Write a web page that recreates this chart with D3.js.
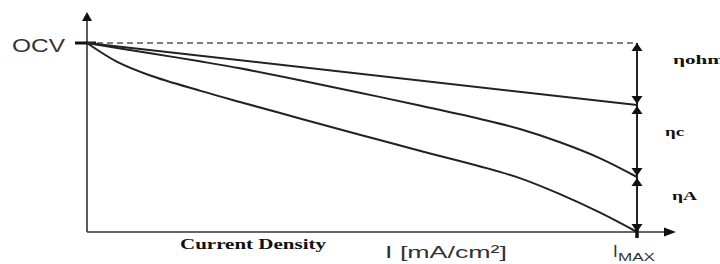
<!DOCTYPE html>
<html>
<head>
<meta charset="utf-8">
<script src="https://cdn.jsdelivr.net/npm/d3@7"></script>
<style>
body{margin:0;background:#fff;}
svg{display:block;}
</style>
</head>
<body>
<svg id="canvas" width="720" height="264"></svg>
<script>
// current density as fraction of I_MAX, cell voltage as fraction of OCV
let current=[0,0.055,0.115,0.205,0.278,0.387,0.496,0.605,0.715,0.787,0.86,0.933,1];
let ohmicLine=[1,0.672];
let ohmicCurrent=[0,1];
let cathodeCurve=[1,0.974,0.946,0.903,0.866,0.803,0.737,0.669,0.598,0.545,0.475,0.39,0.291];
let anodeCurve=[1,0.9,0.828,0.748,0.688,0.601,0.515,0.43,0.347,0.285,0.2,0.102,0];
let lossLevels=[1,0.672,0.291,0];
let lossLabels=["\u03b7ohm","\u03b7c","\u03b7A"];

let w=720,h=264;
let canvas=d3.select("#canvas");

let xScale=d3.scaleLinear().domain([0,1]).range([87,637]);
let yScale=d3.scaleLinear().domain([0,1]).range([232,43]);

let axisColor="#333";

// axes
canvas.append("line").attr("x1",xScale(0)).attr("x2",xScale(0)).attr("y1",yScale(0)).attr("y2",19)
  .attr("stroke",axisColor).attr("stroke-width",1.6);
canvas.append("path").attr("d","M"+(xScale(0)-5)+",21 L"+xScale(0)+",12 L"+(xScale(0)+5)+",21 Z").attr("fill","#111");
canvas.append("line").attr("x1",xScale(0)).attr("x2",666).attr("y1",yScale(0)).attr("y2",yScale(0))
  .attr("stroke",axisColor).attr("stroke-width",1.6);
canvas.append("path").attr("d","M664,"+(yScale(0)-4.5)+" L676,"+yScale(0)+" L664,"+(yScale(0)+4.5)+" Z").attr("fill","#111");

// OCV tick
canvas.append("line").attr("x1",xScale(0)-12).attr("x2",xScale(0)+9).attr("y1",yScale(1)).attr("y2",yScale(1))
  .attr("stroke","#111").attr("stroke-width",3);

// dashed OCV line
canvas.append("line").attr("x1",xScale(0)).attr("x2",xScale(1)).attr("y1",yScale(1)).attr("y2",yScale(1))
  .attr("stroke","#555").attr("stroke-width",1.5).attr("stroke-dasharray","6,4");

let line=d3.line().x((d)=>xScale(d[0])).y((d)=>yScale(d[1])).curve(d3.curveCatmullRom.alpha(0.5));

canvas.append("path").attr("d",line(ohmicCurrent.map((c,i)=>[c,ohmicLine[i]])))
  .attr("fill","none").attr("stroke","#222").attr("stroke-width",2);
canvas.append("path").attr("d",line(current.map((c,i)=>[c,cathodeCurve[i]])))
  .attr("fill","none").attr("stroke","#222").attr("stroke-width",2);
canvas.append("path").attr("d",line(current.map((c,i)=>[c,anodeCurve[i]])))
  .attr("fill","none").attr("stroke","#222").attr("stroke-width",2);

// loss arrows at I_MAX
let ax=xScale(1);
canvas.append("line").attr("x1",ax).attr("x2",ax).attr("y1",yScale(1)).attr("y2",yScale(0))
  .attr("stroke","#222").attr("stroke-width",2);
let up=(y)=>"M"+(ax-5.5)+","+(y+8)+" L"+ax+","+y+" L"+(ax+5.5)+","+(y+8)+" Z";
let down=(y)=>"M"+(ax-5.5)+","+(y-8)+" L"+ax+","+y+" L"+(ax+5.5)+","+(y-8)+" Z";
for(let i=0;i<lossLevels.length-1;i++){
  let yTop=yScale(lossLevels[i]),yBot=yScale(lossLevels[i+1]);
  canvas.append("path").attr("d",up(yTop+(i==0?0:1))).attr("fill","#111");
  canvas.append("path").attr("d",down(yBot-(i==lossLevels.length-2?0:1))).attr("fill","#111");
}
canvas.append("line").attr("x1",ax).attr("x2",ax).attr("y1",yScale(0)-6).attr("y2",yScale(0)+6)
  .attr("stroke","#111").attr("stroke-width",3.5);

let lossX=[673,665,672];
let lossDy=[-14,-9,-9];
let lossLen=[52,19,25];
lossLabels.forEach((t,i)=>{
  let ym=(yScale(lossLevels[i])+yScale(lossLevels[i+1]))/2;
  canvas.append("text").attr("x",lossX[i]).attr("y",ym+lossDy[i]+4)
    .attr("textLength",lossLen[i]).attr("lengthAdjust","spacingAndGlyphs")
    .style("font","bold 12px 'Liberation Serif'").attr("fill","#111").text(t);
});

// labels
canvas.append("text").attr("x",12).attr("y",yScale(1)+9).attr("textLength",53).attr("lengthAdjust","spacingAndGlyphs")
  .style("font","19px 'Liberation Sans'").attr("fill","#333").text("OCV");

canvas.append("text").attr("x",180).attr("y",249).attr("textLength",146).attr("lengthAdjust","spacingAndGlyphs")
  .style("font","bold 15px 'Liberation Serif'").attr("fill","#111").text("Current Density");

canvas.append("text").attr("x",385).attr("y",258).attr("textLength",122).attr("lengthAdjust","spacingAndGlyphs")
  .style("font","17px 'Liberation Sans'").attr("fill","#333").text("I [mA/cm\u00b2]");

canvas.append("text").attr("x",xScale(1)-24).attr("y",257)
  .style("font","17px 'Liberation Sans'").attr("fill","#333").text("I");
canvas.append("text").attr("x",xScale(1)-19).attr("y",261).attr("textLength",37).attr("lengthAdjust","spacingAndGlyphs")
  .style("font","11px 'Liberation Sans'").attr("fill","#333").text("MAX");
</script>
</body>
</html>
